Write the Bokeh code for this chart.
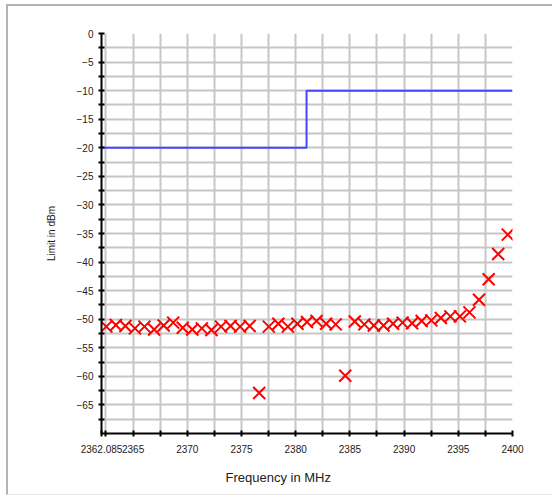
from bokeh.plotting import figure
from bokeh.models import Range1d, FixedTicker, Title
from bokeh.embed import file_html
from bokeh.resources import INLINE

# ---- data ----
limit_freq = [2362.085, 2381.0, 2400.0]
limit_dbm = [-20.0, -10.0, -10.0]

meas_freq = [2362.53, 2363.41, 2364.29, 2365.17, 2366.05, 2366.94, 2367.82, 2368.70,
             2369.58, 2370.46, 2371.34, 2372.23, 2373.11, 2373.99, 2374.87, 2375.75,
             2376.63, 2377.52, 2378.40, 2379.28, 2380.16, 2381.04, 2381.92, 2382.81,
             2383.69, 2384.57, 2385.45, 2386.33, 2387.21, 2388.10, 2388.98, 2389.86,
             2390.74, 2391.62, 2392.51, 2393.39, 2394.27, 2395.15, 2396.03, 2396.91,
             2397.80, 2398.68, 2399.56]
meas_dbm = [-51.3, -51.0, -51.2, -51.6, -51.3, -51.8, -51.1, -50.6,
            -51.5, -51.8, -51.6, -51.9, -51.3, -51.2, -51.3, -51.2,
            -62.9, -51.3, -50.8, -51.3, -50.8, -50.5, -50.3, -50.8,
            -50.9, -59.9, -50.4, -50.9, -51.1, -51.1, -50.8, -50.6,
            -50.7, -50.3, -50.2, -49.8, -49.5, -49.5, -48.8, -46.6,
            -43.0, -38.6, -35.2]

x_tick_values = [2362.085, 2365, 2370, 2375, 2380, 2385, 2390, 2395, 2400]
x_tick_labels = ["2362.085", "2365", "2370", "2375", "2380", "2385", "2390", "2395", "2400"]
x_minor_values = [2362.5, 2367.5, 2372.5, 2377.5, 2382.5, 2387.5, 2392.5, 2397.5]
x_grid_values = [2362.5, 2365, 2367.5, 2370, 2372.5, 2375, 2377.5, 2380, 2382.5,
                 2385, 2387.5, 2390, 2392.5, 2395, 2397.5, 2400]
y_tick_values = [-65, -60, -55, -50, -45, -40, -35, -30, -25, -20, -15, -10, -5, 0]
y_minor_values = [-67.5, -62.5, -57.5, -52.5, -47.5, -42.5, -37.5, -32.5, -27.5,
                  -22.5, -17.5, -12.5, -7.5, -2.5]
y_grid_values = sorted(y_tick_values + y_minor_values)

FONT = "Liberation Sans"

p = figure(width=546, height=491, output_backend="svg", toolbar_location=None,
           x_range=Range1d(2362.085, 2400), y_range=Range1d(-70, 0),
           min_border_left=93, min_border_right=42, min_border_top=27, min_border_bottom=64)
p.styles = {"border-left": "2px solid #b4b4b4", "border-top": "2px solid #b4b4b4",
            "border-bottom": "1px solid #e6e6e6",
            "margin-left": "6px", "margin-top": "4px"}

p.outline_line_color = None
p.background_fill_color = "white"
p.border_fill_color = "white"

# grids
p.xgrid.ticker = FixedTicker(ticks=x_grid_values)
p.ygrid.ticker = FixedTicker(ticks=y_grid_values)
for g in (p.xgrid, p.ygrid):
    g.grid_line_color = "#c6c6c6"
    g.grid_line_width = 2

# axes
p.xaxis.ticker = FixedTicker(ticks=x_tick_values, minor_ticks=x_minor_values)
p.xaxis.major_label_overrides = {v: s for v, s in zip(x_tick_values, x_tick_labels)}
p.yaxis.ticker = FixedTicker(ticks=y_tick_values, minor_ticks=y_minor_values)
for ax in (p.xaxis, p.yaxis):
    ax.axis_line_color = "black"
    ax.axis_line_width = 2
    ax.major_tick_line_color = "black"
    ax.minor_tick_line_color = "black"
    ax.major_tick_line_width = 2
    ax.minor_tick_line_width = 2
    ax.major_tick_in = 3
    ax.major_tick_out = 3
    ax.minor_tick_in = 3
    ax.minor_tick_out = 3
    ax.major_label_text_font = FONT
    ax.major_label_text_font_size = "10px"
    ax.major_label_text_color = "#222222"
p.xaxis.major_label_standoff = 8
p.yaxis.major_label_standoff = 5

p.yaxis.axis_label = "Limit in dBm"
p.yaxis.axis_label_text_font = FONT
p.yaxis.axis_label_text_font_size = "10px"
p.yaxis.axis_label_text_font_style = "normal"
p.yaxis.axis_label_text_color = "#222222"
p.yaxis.axis_label_standoff = 17

xt = Title(text="Frequency in MHz", align="left", offset=124, text_font=FONT,
           text_font_size="13px", text_font_style="normal", text_color="#222222",
           standoff=24)
p.add_layout(xt, "below")

# data
p.step(limit_freq, limit_dbm, mode="after", line_color="#4646ff", line_width=2)
p.scatter(meas_freq, meas_dbm, marker="x", size=17, line_color="red", line_width=2)

open("out.html", "w").write(file_html(p, INLINE))
